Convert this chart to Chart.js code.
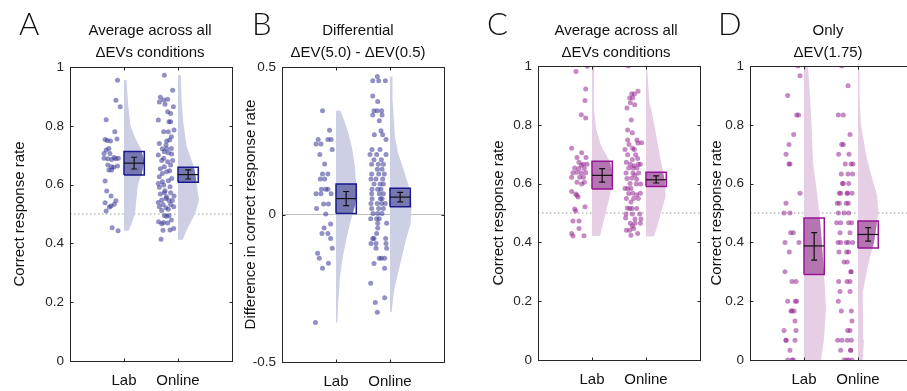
<!DOCTYPE html>
<html>
<head>
<meta charset="utf-8">
<script src="https://cdn.jsdelivr.net/npm/chart.js@4.4.1/dist/chart.umd.min.js"></script>
<style>
  html, body { margin: 0; padding: 0; background: #fff; }
  #fig { position: relative; width: 907px; height: 391px; overflow: hidden; font-family: "Liberation Sans", Arial, sans-serif; color: #111; }
  #fig canvas { position: absolute; left: 0; top: 0; }
  .title { position: absolute; width: 220px; text-align: center; font-size: 15px; line-height: 21.5px; top: 19px; }
  .letter { position: absolute; top: 8px; font-size: 31px; line-height: 31px; font-family: Lato, "Open Sans", "Liberation Sans", sans-serif; font-weight: 300; }
</style>
</head>
<body>
<div id="fig">
  <canvas id="canvasA" width="920" height="391"></canvas>
  <canvas id="canvasB" width="920" height="391"></canvas>
  <canvas id="canvasC" width="920" height="391"></canvas>
  <canvas id="canvasD" width="920" height="391"></canvas>
  <div class="letter" style="left:19px">A</div>
  <div class="letter" style="left:252px">B</div>
  <div class="letter" style="left:487px">C</div>
  <div class="letter" style="left:718px">D</div>
  <div class="title" style="left:40px">Average across all<br>ΔEVs conditions</div>
  <div class="title" style="left:248px">Differential<br>ΔEV(5.0) - ΔEV(0.5)</div>
  <div class="title" style="left:506px">Average across all<br>ΔEVs conditions</div>
  <div class="title" style="left:718px">Only<br>ΔEV(1.75)</div>
</div>
<script>
const groups = ["Lab", "Online"];

// points: [jitter offset from the group position, value]
const aLab = [[-0.12,0.955],[-0.15,0.887],[-0.07,0.865],[-0.33,0.821],[-0.17,0.78],
  [-0.35,0.753],[-0.31,0.75],[-0.25,0.748],[-0.13,0.755],[-0.28,0.723],[-0.33,0.718],
  [-0.37,0.706],[-0.26,0.706],[-0.37,0.69],[-0.30,0.688],[-0.185,0.692],[-0.105,0.69],
  [-0.15,0.688],[-0.23,0.685],[-0.30,0.667],[-0.23,0.661],[-0.12,0.663],[-0.19,0.659],
  [-0.28,0.65],[-0.23,0.65],[-0.35,0.612],[-0.32,0.578],[-0.24,0.561],[-0.15,0.545],
  [-0.35,0.538],[-0.18,0.533],[-0.24,0.527],[-0.27,0.524],[-0.33,0.51],[-0.22,0.453],[-0.11,0.443]];
const aOnline = [[-0.253,0.972],[-0.099,0.921],[-0.327,0.897],[-0.265,0.888],[-0.346,0.881],[-0.191,0.890],
  [-0.24,0.873],[-0.086,0.865],[-0.191,0.848],[-0.136,0.842],[-0.365,0.82],[-0.167,0.814],[-0.136,0.814],
  [-0.074,0.786],[-0.265,0.78],[-0.179,0.78],[-0.123,0.763],[-0.154,0.752],[-0.21,0.748],[-0.346,0.74],
  [-0.222,0.735],[-0.123,0.723],[-0.29,0.722],[-0.21,0.722],[-0.365,0.701],[-0.253,0.712],[-0.179,0.708],
  [-0.117,0.704],[-0.265,0.69],[-0.302,0.682],[-0.191,0.678],[-0.099,0.682],[-0.136,0.667],[-0.253,0.661],
  [-0.327,0.654],[-0.154,0.647],[-0.21,0.644],[-0.29,0.638],[-0.346,0.627],[-0.117,0.621],[-0.179,0.613],
  [-0.29,0.61],[-0.365,0.604],[-0.265,0.599],[-0.346,0.591],[-0.148,0.593],[-0.24,0.579],[-0.253,0.572],
  [-0.327,0.568],[-0.136,0.572],[-0.21,0.559],[-0.074,0.561],[-0.222,0.553],[-0.302,0.548],[-0.167,0.546],
  [-0.105,0.546],[-0.365,0.539],[-0.278,0.532],[-0.136,0.532],[-0.346,0.525],[-0.222,0.521],[-0.08,0.525],
  [-0.179,0.516],[-0.302,0.512],[-0.253,0.495],[-0.167,0.495],[-0.21,0.492],[-0.123,0.48],[-0.36,0.474],
  [-0.265,0.471],[-0.191,0.469],[-0.302,0.467],[-0.08,0.451],[-0.148,0.446],[-0.278,0.445],[-0.314,0.414]];
const bLab = [[-0.25,0.352],[-0.12,0.286],[-0.33,0.254],[-0.15,0.254],[-0.09,0.254],[-0.37,0.239],
  [-0.28,0.239],[-0.07,0.22],[-0.30,0.203],[-0.21,0.171],[-0.25,0.137],[-0.15,0.137],[-0.29,0.12],
  [-0.21,0.12],[-0.27,0.086],[-0.19,0.086],[-0.15,0.086],[-0.37,0.07],[-0.28,0.07],[-0.09,0.07],
  [-0.23,0.036],[-0.14,0.036],[-0.36,0.02],[-0.19,0.002],[-0.10,-0.032],[-0.22,-0.046],[-0.26,-0.064],
  [-0.15,-0.064],[-0.10,-0.081],[-0.07,-0.114],[-0.34,-0.131],[-0.31,-0.148],[-0.14,-0.165],
  [-0.25,-0.182],[-0.38,-0.366]];
const bOnline = [[-0.235,0.468],[-0.32,0.453],[-0.21,0.453],[-0.086,0.453],[-0.32,0.402],[-0.228,0.383],
  [-0.296,0.352],[-0.235,0.352],[-0.154,0.352],[-0.32,0.337],[-0.148,0.337],[-0.198,0.318],
  [-0.29,0.27],[-0.167,0.284],[-0.136,0.27],[-0.074,0.254],[-0.333,0.22],[-0.185,0.22],[-0.37,0.203],
  [-0.247,0.203],[-0.074,0.203],[-0.296,0.186],[-0.16,0.186],[-0.34,0.17],[-0.216,0.17],[-0.123,0.17],
  [-0.235,0.153],[-0.148,0.153],[-0.34,0.137],[-0.21,0.137],[-0.105,0.137],[-0.352,0.12],[-0.259,0.12],
  [-0.136,0.12],[-0.296,0.103],[-0.185,0.103],[-0.123,0.103],[-0.333,0.086],[-0.228,0.086],[-0.167,0.086],
  [-0.34,0.07],[-0.198,0.07],[-0.123,0.07],[-0.333,0.053],[-0.179,0.053],[-0.148,0.053],[-0.352,0.037],
  [-0.235,0.037],[-0.154,0.037],[-0.086,0.037],[-0.34,0.02],[-0.21,0.02],[-0.123,0.02],[-0.315,0.003],
  [-0.228,0.003],[-0.148,0.003],[-0.358,-0.014],[-0.247,-0.014],[-0.198,-0.014],[-0.062,-0.03],
  [-0.228,-0.03],[-0.228,-0.046],[-0.247,-0.064],[-0.32,-0.081],[-0.08,-0.081],[-0.296,-0.081],
  [-0.352,-0.098],[-0.259,-0.098],[-0.074,-0.098],[-0.259,-0.114],[-0.062,-0.114],[-0.198,-0.148],
  [-0.099,-0.148],[-0.16,-0.148],[-0.296,-0.166],[-0.099,-0.182],[-0.358,-0.233],[-0.099,-0.282],
  [-0.272,-0.298],[-0.235,-0.331]];
const cLab = [[-0.086,0.999],[-0.296,0.981],[-0.117,0.922],[-0.13,0.883],[-0.198,0.834],[-0.117,0.823],
  [-0.377,0.72],[-0.191,0.705],[-0.278,0.689],[-0.111,0.689],[-0.241,0.673],[-0.16,0.666],[-0.093,0.666],
  [-0.198,0.662],[-0.321,0.653],[-0.241,0.651],[-0.142,0.651],[-0.352,0.637],[-0.278,0.639],[-0.198,0.636],
  [-0.117,0.637],[-0.228,0.622],[-0.377,0.622],[-0.16,0.622],[-0.278,0.605],[-0.191,0.599],[-0.142,0.605],
  [-0.377,0.573],[-0.302,0.565],[-0.259,0.554],[-0.278,0.56],[-0.13,0.521],[-0.321,0.514],[-0.302,0.507],
  [-0.352,0.473],[-0.241,0.473],[-0.241,0.447],[-0.377,0.43],[-0.148,0.423],[-0.352,0.422]];
const cOnline = [[-0.327,1.0],[-0.148,0.914],[-0.216,0.905],[-0.265,0.906],[-0.302,0.891],[-0.247,0.891],
  [-0.29,0.875],[-0.21,0.868],[-0.352,0.857],[-0.272,0.816],[-0.34,0.782],[-0.253,0.773],[-0.34,0.748],
  [-0.167,0.748],[-0.148,0.738],[-0.08,0.739],[-0.315,0.733],[-0.247,0.72],[-0.389,0.716],[-0.216,0.716],
  [-0.191,0.698],[-0.34,0.698],[-0.154,0.685],[-0.253,0.682],[-0.364,0.673],[-0.29,0.666],[-0.142,0.666],
  [-0.105,0.666],[-0.222,0.661],[-0.321,0.653],[-0.241,0.653],[-0.167,0.653],[-0.37,0.636],[-0.241,0.636],
  [-0.136,0.636],[-0.204,0.628],[-0.352,0.617],[-0.265,0.619],[-0.173,0.615],[-0.296,0.6],[-0.179,0.599],
  [-0.099,0.599],[-0.389,0.583],[-0.34,0.583],[-0.278,0.583],[-0.321,0.566],[-0.247,0.567],[-0.173,0.562],
  [-0.105,0.567],[-0.364,0.549],[-0.228,0.549],[-0.142,0.549],[-0.278,0.537],[-0.346,0.517],[-0.302,0.515],
  [-0.259,0.515],[-0.173,0.515],[-0.37,0.497],[-0.253,0.497],[-0.117,0.497],[-0.093,0.48],[-0.204,0.48],
  [-0.377,0.483],[-0.29,0.465],[-0.204,0.465],[-0.105,0.465],[-0.253,0.456],[-0.228,0.447],[-0.302,0.441],
  [-0.364,0.441],[-0.154,0.43],[-0.278,0.424]];
const dLab = [[-0.111,1.0],[-0.074,0.967],[-0.302,0.9],[-0.136,0.833],[-0.099,0.833],[-0.191,0.767],
  [-0.278,0.733],[-0.333,0.7],[-0.278,0.667],[-0.26,0.667],[-0.074,0.567],[-0.333,0.533],[-0.37,0.5],
  [-0.26,0.5],[-0.247,0.433],[-0.198,0.433],[-0.352,0.4],[-0.093,0.4],[-0.272,0.367],[-0.352,0.3],
  [-0.222,0.267],[-0.148,0.267],[-0.302,0.2],[-0.16,0.2],[-0.136,0.2],[-0.241,0.167],[-0.185,0.167],
  [-0.222,0.167],[-0.167,0.133],[-0.37,0.1],[-0.148,0.1],[-0.333,0.067],[-0.333,0.067],[-0.167,0.067],
  [-0.26,0.033],[-0.302,0.0],[-0.222,0.0],[-0.198,0.0]];
const dOnline = [[-0.302,1.0],[-0.185,0.933],[-0.364,0.833],[-0.272,0.833],[-0.148,0.767],[-0.302,0.733],
  [-0.272,0.733],[-0.358,0.7],[-0.167,0.7],[-0.235,0.667],[-0.13,0.667],[-0.093,0.667],[-0.309,0.633],
  [-0.185,0.633],[-0.099,0.633],[-0.29,0.6],[-0.272,0.6],[-0.173,0.6],[-0.346,0.567],[-0.321,0.567],
  [-0.198,0.567],[-0.198,0.567],[-0.111,0.567],[-0.383,0.533],[-0.346,0.533],[-0.216,0.533],[-0.179,0.533],
  [-0.364,0.5],[-0.259,0.5],[-0.173,0.5],[-0.395,0.467],[-0.321,0.467],[-0.173,0.467],[-0.117,0.467],
  [-0.333,0.433],[-0.148,0.433],[-0.37,0.4],[-0.321,0.4],[-0.216,0.4],[-0.179,0.4],[-0.099,0.4],
  [-0.352,0.367],[-0.21,0.367],[-0.173,0.367],[-0.259,0.333],[-0.198,0.333],[-0.13,0.3],[-0.13,0.3],
  [-0.358,0.267],[-0.204,0.267],[-0.148,0.267],[-0.333,0.233],[-0.148,0.233],[-0.364,0.2],[-0.309,0.167],
  [-0.123,0.167],[-0.111,0.133],[-0.191,0.1],[-0.148,0.1],[-0.377,0.067],[-0.296,0.067],[-0.198,0.067],
  [-0.123,0.067],[-0.321,0.033],[-0.136,0.033],[-0.136,0.033],[-0.259,0.0],[-0.21,0.0],[-0.173,0.0],[-0.111,0.0]];

// half-violin outlines: [value, density width in category units], bottom to top
const aLabViolin = [[0.443,0.087],[0.47,0.148],[0.5,0.204],[0.56,0.235],[0.6,0.259],[0.64,0.333],[0.68,0.38],
  [0.72,0.315],[0.76,0.204],[0.8,0.12],[0.86,0.083],[0.92,0.059],[0.956,0.046]];
const aOnlineViolin = [[0.412,0.087],[0.446,0.161],[0.5,0.315],[0.548,0.389],[0.582,0.361],[0.63,0.324],
  [0.66,0.296],[0.73,0.161],[0.81,0.098],[0.88,0.069],[0.973,0.05]];
const bLabViolin = [[-0.366,0.024],[-0.30,0.041],[-0.21,0.074],[-0.146,0.124],[-0.078,0.198],[-0.021,0.272],
  [0.03,0.352],[0.07,0.389],[0.114,0.37],[0.17,0.343],[0.227,0.296],[0.28,0.222],[0.32,0.148],[0.352,0.083]];
const bOnlineViolin = [[-0.331,0.028],[-0.26,0.074],[-0.213,0.13],[-0.146,0.217],[-0.078,0.306],[-0.033,0.38],
  [0.035,0.402],[0.09,0.357],[0.148,0.259],[0.205,0.154],[0.261,0.093],[0.383,0.05],[0.468,0.046]];
const cLabViolin = [[0.422,0.148],[0.447,0.18],[0.503,0.259],[0.56,0.333],[0.6,0.375],[0.65,0.36],[0.674,0.333],
  [0.73,0.167],[0.787,0.074],[0.844,0.043],[0.89,0.033],[0.999,0.043]];
const cOnlineViolin = [[0.42,0.143],[0.447,0.198],[0.5,0.278],[0.549,0.352],[0.578,0.365],[0.605,0.352],
  [0.674,0.278],[0.73,0.222],[0.787,0.167],[0.844,0.106],[0.878,0.061],[1.0,0.019]];
const dLabViolin = [[0.0,0.315],[0.07,0.37],[0.18,0.407],[0.3,0.37],[0.39,0.333],[0.48,0.296],[0.58,0.235],
  [0.67,0.167],[0.79,0.143],[0.9,0.111],[1.0,0.074]];
const dOnlineViolin = [[0.0,0.087],[0.07,0.111],[0.15,0.093],[0.23,0.087],[0.3,0.161],[0.35,0.222],[0.4,0.296],
  [0.47,0.352],[0.5,0.38],[0.56,0.352],[0.62,0.259],[0.7,0.148],[0.8,0.056],[0.9,0.028],[0.99,0.028]];

// [mean, box low, box high, error low, error high]
const aLabStats = [0.673, 0.633, 0.713, 0.653, 0.693];
const aOnlineStats = [0.634, 0.608, 0.659, 0.619, 0.650];
const bLabStats = [0.054, 0.003, 0.103, 0.030, 0.078];
const bOnlineStats = [0.059, 0.026, 0.089, 0.043, 0.075];
const cLabStats = [0.628, 0.582, 0.676, 0.605, 0.651];
const cOnlineStats = [0.613, 0.590, 0.639, 0.602, 0.626];
const dLabStats = [0.388, 0.291, 0.483, 0.340, 0.433];
const dOnlineStats = [0.427, 0.381, 0.473, 0.404, 0.450];

const yTicksAC = [0, 1, 0.2];
const yTicksB = [-0.5, 0.5, 0.5];

const FONT = "'Liberation Sans', Arial, sans-serif";
const BLUE = { pt: "rgba(55,55,150,0.55)", violin: "rgb(205,207,228)", box: "rgb(118,120,178)", edge: "rgb(25,25,140)" };
const PURPLE = { pt: "rgba(150,40,145,0.55)", violin: "rgb(230,207,228)", box: "rgb(181,117,177)", edge: "rgb(150,20,150)" };

const frame = {
  id: "frame",
  afterDatasetsDraw(chart) {
    const { ctx, chartArea: a, scales: { x, y } } = chart;
    const L = Math.round(a.left) + 0.5, R = Math.round(a.right) + 0.5;
    const T = Math.round(a.top) + 0.5, B = Math.round(a.bottom) + 0.5;
    ctx.save();
    ctx.strokeStyle = "#262626";
    ctx.lineWidth = 1;
    ctx.strokeRect(L, T, R - L, B - T);
    ctx.beginPath();
    y.ticks.forEach(t => {
      const p = Math.round(y.getPixelForValue(t.value)) + 0.5;
      ctx.moveTo(L, p); ctx.lineTo(L + 3, p);
      ctx.moveTo(R, p); ctx.lineTo(R - 3, p);
    });
    x.ticks.forEach(t => {
      const p = Math.round(x.getPixelForValue(t.value)) + 0.5;
      ctx.moveTo(p, B); ctx.lineTo(p, B - 3);
      ctx.moveTo(p, T); ctx.lineTo(p, T + 3);
    });
    ctx.stroke();
    ctx.restore();
  }
};

function widthAt(violin, v) {
  for (let i = 1; i < violin.length; i++) {
    const [y0, w0] = violin[i - 1], [y1, w1] = violin[i];
    if (v >= y0 && v <= y1) return w0 + (w1 - w0) * (v - y0) / (y1 - y0);
  }
  return violin[v < violin[0][0] ? 0 : violin.length - 1][1];
}

function groupSets(pos, pts, violin, stats, col) {
  const [mean, lo, hi, eLo, eHi] = stats;
  const bw = 0.376, mid = pos + bw / 2, cap = 0.055;
  const line = (data, extra) => Object.assign({
    type: "line", data, pointRadius: 0, borderWidth: 0, fill: false, tension: 0
  }, extra);

  const outline = [{ x: pos, y: violin[0][0] }]
    .concat(violin.map(([v, w]) => ({ x: pos + w, y: v })))
    .concat([{ x: pos, y: violin[violin.length - 1][0] }]);

  const inner = [{ x: pos, y: lo }, { x: pos + Math.min(widthAt(violin, lo), bw), y: lo }];
  violin.forEach(([v, w]) => { if (v > lo && v < hi) inner.push({ x: pos + Math.min(w, bw), y: v }); });
  inner.push({ x: pos + Math.min(widthAt(violin, hi), bw), y: hi }, { x: pos, y: hi });

  const rect = [{ x: pos, y: lo }, { x: pos + bw, y: lo }, { x: pos + bw, y: hi }, { x: pos, y: hi }, { x: pos, y: lo }];
  const err = [{ x: mid, y: eLo }, { x: mid, y: eHi }, { x: mid, y: null },
    { x: mid - cap, y: eLo }, { x: mid + cap, y: eLo }, { x: mid, y: null },
    { x: mid - cap, y: eHi }, { x: mid + cap, y: eHi }];

  return [
    line(outline, { fill: "shape", backgroundColor: col.violin, order: 6 }),
    line(inner, { fill: "shape", backgroundColor: col.box, order: 5 }),
    line(rect, { borderColor: col.edge, borderWidth: 1.5, order: 4 }),
    line([{ x: pos, y: mean }, { x: pos + bw, y: mean }], { borderColor: "#111", borderWidth: 1.2, order: 3 }),
    line(err, { borderColor: "#111", borderWidth: 1.2, spanGaps: false, order: 2 }),
    {
      type: "scatter",
      data: pts.map(([dx, v]) => ({ x: pos + dx, y: v })),
      pointRadius: 2.5, borderWidth: 0, backgroundColor: col.pt, order: 1
    }
  ];
}

function makePanel(id, area, yTicks, yTitle, ref, lab, online, col) {
  const [ymin, ymax, step] = yTicks;
  const yBoxLeft = area.titleX - 9;
  const refLine = {
    type: "line", data: [{ x: 0, y: ref.value }, { x: 3, y: ref.value }],
    pointRadius: 0, borderWidth: 1, borderColor: ref.color, borderDash: ref.dash, fill: false, order: 7
  };
  new Chart(document.getElementById(id), {
    type: "scatter",
    data: {
      datasets: [refLine]
        .concat(groupSets(1, lab.pts, lab.violin, lab.stats, col))
        .concat(groupSets(2, online.pts, online.violin, online.stats, col))
    },
    options: {
      responsive: false,
      animation: false,
      events: [],
      layout: { padding: { left: yBoxLeft, right: 920 - area.right, top: area.top, bottom: 0 } },
      plugins: { legend: { display: false }, tooltip: { enabled: false } },
      scales: {
        x: {
          type: "linear", min: 0, max: 3,
          grid: { display: false, drawTicks: false },
          border: { display: false },
          afterBuildTicks: s => { s.ticks = [{ value: 1 }, { value: 2 }]; },
          afterFit: s => { s.height = 391 - area.bottom; },
          ticks: {
            autoSkip: false, maxRotation: 0, padding: 11, color: "#111",
            font: { family: FONT, size: 15 },
            callback: v => groups[v - 1]
          }
        },
        y: {
          min: ymin, max: ymax,
          grid: { display: false, drawTicks: false },
          border: { display: false },
          afterFit: s => { s.width = area.left - yBoxLeft; },
          ticks: {
            stepSize: step, padding: 6, color: "#262626", font: { family: FONT, size: 13.5 },
            callback: v => String(parseFloat(v.toFixed(2)))
          },
          title: { display: true, text: yTitle, padding: 0, color: "#111", font: { family: FONT, size: 15 } }
        }
      }
    },
    plugins: [frame]
  });
}

const dotted = { value: 0.5, color: "rgb(150,150,150)", dash: [1.5, 2.5] };
makePanel("canvasA", { left: 70, right: 232, top: 67, bottom: 361, titleX: 20 }, yTicksAC, "Correct response rate", dotted,
  { pts: aLab, violin: aLabViolin, stats: aLabStats }, { pts: aOnline, violin: aOnlineViolin, stats: aOnlineStats }, BLUE);
makePanel("canvasB", { left: 282, right: 444, top: 67, bottom: 362, titleX: 251 }, yTicksB, "Difference in correct response rate",
  { value: 0, color: "rgb(190,190,190)", dash: [] },
  { pts: bLab, violin: bLabViolin, stats: bLabStats }, { pts: bOnline, violin: bOnlineViolin, stats: bOnlineStats }, BLUE);
makePanel("canvasC", { left: 538, right: 700, top: 66, bottom: 360, titleX: 499 }, yTicksAC, "Correct response rate", dotted,
  { pts: cLab, violin: cLabViolin, stats: cLabStats }, { pts: cOnline, violin: cOnlineViolin, stats: cOnlineStats }, PURPLE);
makePanel("canvasD", { left: 750, right: 912, top: 66, bottom: 360, titleX: 717 }, yTicksAC, "Correct response rate", dotted,
  { pts: dLab, violin: dLabViolin, stats: dLabStats }, { pts: dOnline, violin: dOnlineViolin, stats: dOnlineStats }, PURPLE);
</script>
</body>
</html>
